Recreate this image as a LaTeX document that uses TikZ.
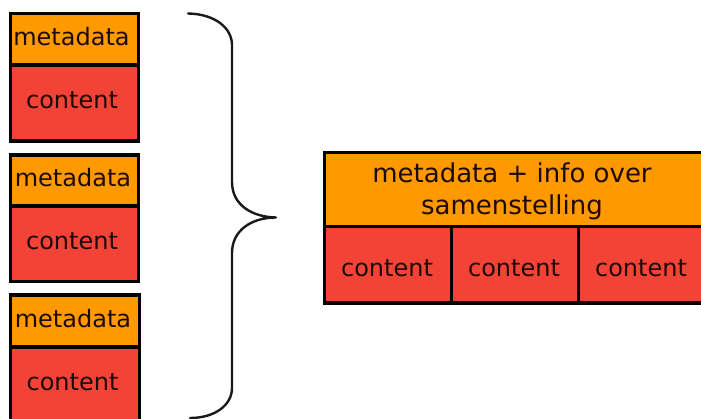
\documentclass[tikz,border=0pt]{standalone}
\usepackage{fontspec}
\setmainfont{DejaVu Sans}
\definecolor{metaorange}{RGB}{255,153,0}
\definecolor{contentred}{RGB}{243,66,54}
\definecolor{inkdark}{RGB}{30,10,5}
\tikzset{
  cell/.style={draw=black, line width=3.4pt, inner sep=0pt, outer sep=0pt, anchor=north west},
  metabox/.style={cell, fill=metaorange},
  contentbox/.style={cell, fill=contentred},
  lab/.style={inner sep=0pt, text=inkdark, align=center, font=\fontsize{24}{30}\selectfont},
  biglab/.style={lab, font=\fontsize{26}{32}\selectfont},
  bracestroke/.style={draw=black!90, line width=2.4pt, line cap=round, line join=round},
}
\begin{document}
\begin{tikzpicture}[x=1pt,y=-1pt]
\useasboundingbox (0,0) rectangle (701,419);
\node[metabox, minimum width=128pt, minimum height=51.5pt] (m1) at (10.5,13.5) {};
\node[contentbox, minimum width=128pt, minimum height=76pt] (c1) at (10.5,65) {};
\node[metabox, minimum width=128pt, minimum height=51pt] (m2) at (10.5,155) {};
\node[contentbox, minimum width=128pt, minimum height=75.5pt] (c2) at (10.5,206) {};
\node[metabox, minimum width=129pt, minimum height=52pt] (m3) at (10.5,295) {};
\node[contentbox, minimum width=129pt, minimum height=78pt] (c3) at (10.5,347) {};
\node[metabox, minimum width=400pt, minimum height=74pt] (mm) at (324.5,152.5) {};
\node[contentbox, minimum width=127pt, minimum height=76.5pt] (k1) at (324.5,226.5) {};
\node[contentbox, minimum width=127pt, minimum height=76.5pt] (k2) at (451.5,226.5) {};
\node[contentbox, minimum width=127pt, minimum height=76.5pt] (k3) at (578.5,226.5) {};
\node[lab] (tm1) at (71.5,37) {metadata};
\node[lab] (tc1) at (72,100) {content};
\node[lab] (tm2) at (73,178) {metadata};
\node[lab] (tc2) at (72,241) {content};
\node[lab] (tm3) at (73,319) {metadata};
\node[lab] (tc3) at (72.5,382) {content};
\node[biglab] (tmm) at (512,191) {metadata + info over\\samenstelling};
\node[lab] (tk1) at (387,268) {content};
\node[lab] (tk2) at (514,268) {content};
\node[lab] (tk3) at (641,268) {content};
\coordinate (bt) at (188,13.5);
\coordinate (bm) at (276,217.5);
\coordinate (bb) at (190,418);
\draw[bracestroke] (bt) .. controls (215,14) and (232,28) .. (232,45)
  -- (232,182) .. controls (232,205) and (252,217) .. (bm)
  .. controls (252,217.5) and (232,230) .. (232,253)
  -- (232,388) .. controls (232,405) and (215,418) .. (bb);
\end{tikzpicture}
\end{document}
